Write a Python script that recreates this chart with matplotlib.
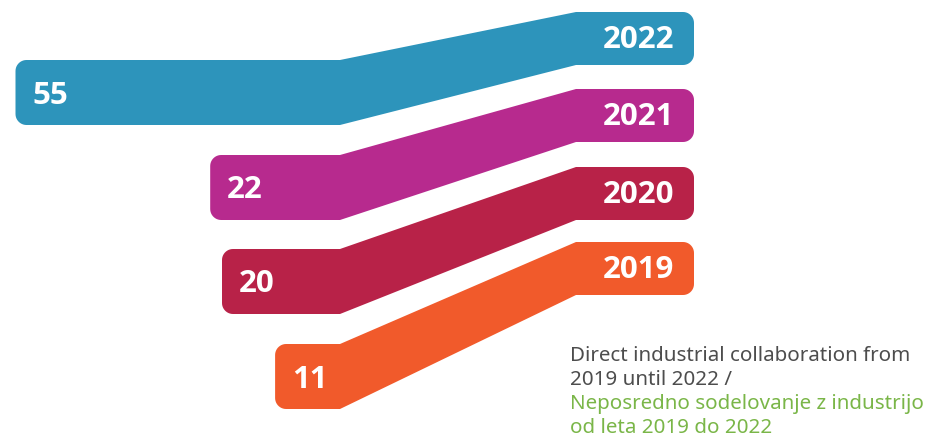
import matplotlib
matplotlib.use("Agg")
import matplotlib.pyplot as plt
import numpy as np
from matplotlib.patches import PathPatch
from matplotlib.path import Path

years = ["2022", "2021", "2020", "2019"]
values = [55, 22, 20, 11]
colors = ["#2d94bb", "#b72a8e", "#b82248", "#f15a2b"]
caption_lines = ["Direct industrial collaboration from", "2019 until 2022 /",
                 "Neposredno sodelovanje z industrijo", "od leta 2019 do 2022"]
caption_colors = ["#4d4d4d", "#4d4d4d", "#7ab648", "#7ab648"]

W, H = 931, 437
fig = plt.figure(figsize=(W / 100, H / 100), dpi=100)
ax = fig.add_axes([0, 0, 1, 1])
ax.set_xlim(0, W)
ax.set_ylim(H, 0)
ax.axis("off")

# layout (pixels)
BREAK_X = 340
RIGHT_START = 576
RIGHT_END = 694
PX_PER_UNIT = 5.9
LEFT_TOPS = [60, 155, 249, 344]
LEFT_H = 65
RIGHT_TOPS = [12, 89, 167, 242]
RIGHT_H = 53
R = 11


def arc(cx, cy, r, a0, a1, n=12):
    t = np.radians(np.linspace(a0, a1, n))
    return [(cx + r * np.cos(a), cy + r * np.sin(a)) for a in t]


def ribbon(left, lt, lb, rt, rb):
    pts = []
    pts += arc(left + R, lt + R, R, 180, 270)
    pts += [(BREAK_X, lt), (RIGHT_START, rt)]
    pts += arc(RIGHT_END - R, rt + R, R, 270, 360)
    pts += arc(RIGHT_END - R, rb - R, R, 0, 90)
    pts += [(RIGHT_START, rb), (BREAK_X, lb)]
    pts += arc(left + R, lb - R, R, 90, 180)
    pts.append(pts[0])
    codes = [Path.MOVETO] + [Path.LINETO] * (len(pts) - 2) + [Path.CLOSEPOLY]
    return Path(pts, codes)


num_font = "Open Sans"
cap_font = "Noto Sans"
for yr, v, c, lt, rt in zip(years, values, colors, LEFT_TOPS, RIGHT_TOPS):
    left = BREAK_X - v * PX_PER_UNIT
    p = ribbon(left, lt, lt + LEFT_H, rt, rt + RIGHT_H)
    ax.add_patch(PathPatch(p, facecolor=c, edgecolor="none"))
    ax.text(left + 17, lt + LEFT_H / 2 + 3, str(v), color="white", fontsize=22.5,
            fontweight="bold", family=num_font, ha="left", va="center")
    ax.text(RIGHT_END - 20, rt + RIGHT_H / 2 + 1.5, yr, color="white", fontsize=22.5,
            fontweight="bold", family=num_font, ha="right", va="center")

for i, (line, col) in enumerate(zip(caption_lines, caption_colors)):
    ax.text(570, 356 + 24 * i, line, color=col, fontsize=14.8, family=cap_font,
            ha="left", va="center")

fig.savefig("out.png", dpi=100)
